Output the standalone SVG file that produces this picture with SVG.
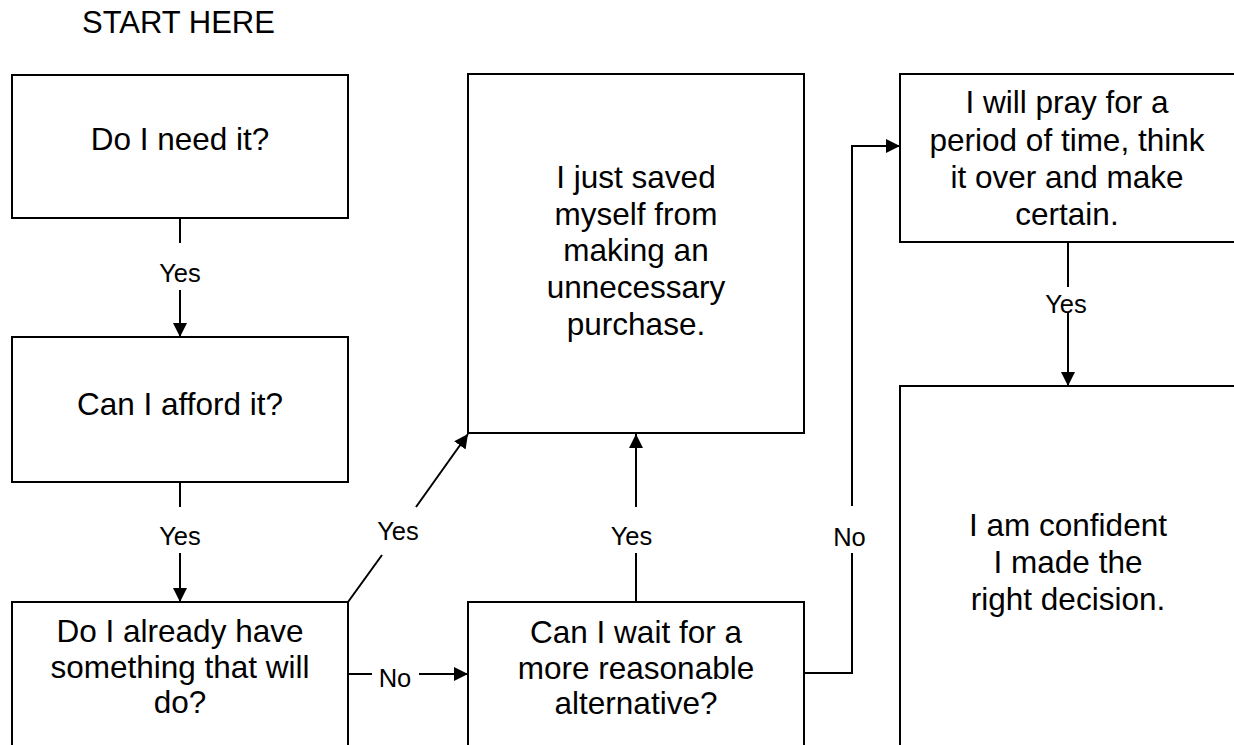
<svg xmlns="http://www.w3.org/2000/svg" width="1234" height="745" viewBox="0 0 1234 745">
<style>
.box{fill:#fff;stroke:#000;stroke-width:2}
.t{font-family:"Liberation Sans",Arial,sans-serif;font-size:31.5px;fill:#000;text-anchor:middle}
.lbl{font-family:"Liberation Sans",Arial,sans-serif;font-size:25.5px;fill:#000;text-anchor:middle}
.c{fill:none;stroke:#000;stroke-width:2}
</style>
<defs>
<marker id="arr" markerUnits="userSpaceOnUse" markerWidth="14" markerHeight="14" refX="14" refY="7" orient="auto">
<path d="M0,0 L14,7 L0,14 z" fill="#000"/>
</marker>
</defs>
<rect width="1234" height="745" fill="#fff"/>
<text id="start" x="82" y="33" style="font-family:'Liberation Sans',Arial,sans-serif;font-size:31px">START HERE</text>
<g id="n1"><rect class="box" x="12" y="75" width="336" height="143"/><text class="t" x="180" y="150">Do I need it?</text></g>
<g id="n2"><rect class="box" x="12" y="337" width="336" height="145"/><text class="t" x="180" y="415">Can I afford it?</text></g>
<g id="n3"><rect class="box" x="12" y="602" width="336" height="170"/><text class="t" x="180" y="642">Do I already have</text><text class="t" x="180" y="678">something that will</text><text class="t" x="180" y="713">do?</text></g>
<g id="n4"><rect class="box" x="468" y="74" width="336" height="359"/><text class="t" x="636" y="188">I just saved</text><text class="t" x="636" y="224.5">myself from</text><text class="t" x="636" y="261">making an</text><text class="t" x="636" y="298">unnecessary</text><text class="t" x="636" y="335">purchase.</text></g>
<g id="n5"><rect class="box" x="468" y="602" width="336" height="170"/><text class="t" x="636" y="642.5">Can I wait for a</text><text class="t" x="636" y="678.5">more reasonable</text><text class="t" x="636" y="713.5">alternative?</text></g>
<g id="n6"><rect class="box" x="900" y="74" width="336" height="168"/><text class="t" x="1067" y="113">I will pray for a</text><text class="t" x="1067" y="150.5">period of time, think</text><text class="t" x="1067" y="188">it over and make</text><text class="t" x="1067" y="225">certain.</text></g>
<g id="n7"><rect class="box" x="900" y="386" width="336" height="380"/><text class="t" x="1068" y="536">I am confident</text><text class="t" x="1068" y="573">I made the</text><text class="t" x="1068" y="609.5">right decision.</text></g>
<g id="connectors">
<path class="c" d="M180,218 V243"/><path class="c" d="M180,290 V337" marker-end="url(#arr)"/>
<text class="lbl" x="180" y="282">Yes</text>
<path class="c" d="M180,482 V507"/><path class="c" d="M180,553 V602" marker-end="url(#arr)"/>
<text class="lbl" x="180" y="545">Yes</text>
<path class="c" d="M348,602 L382,555"/><path class="c" d="M416,507 L468,434" marker-end="url(#arr)"/>
<text class="lbl" x="398" y="540">Yes</text>
<path class="c" d="M636,602 V553"/><path class="c" d="M636,507 V434" marker-end="url(#arr)"/>
<text class="lbl" x="631.5" y="545">Yes</text>
<path class="c" d="M348,674 H372"/><path class="c" d="M419,674 H468" marker-end="url(#arr)"/>
<text class="lbl" x="395" y="687">No</text>
<path class="c" d="M804,673 H852 V553"/><path class="c" d="M852,506 V146 H900" marker-end="url(#arr)"/>
<text class="lbl" x="849.5" y="546">No</text>
<path class="c" d="M1068,242 V287"/><path class="c" d="M1068,313 V386" marker-end="url(#arr)"/>
<text class="lbl" x="1066" y="313">Yes</text>
</g>
</svg>
